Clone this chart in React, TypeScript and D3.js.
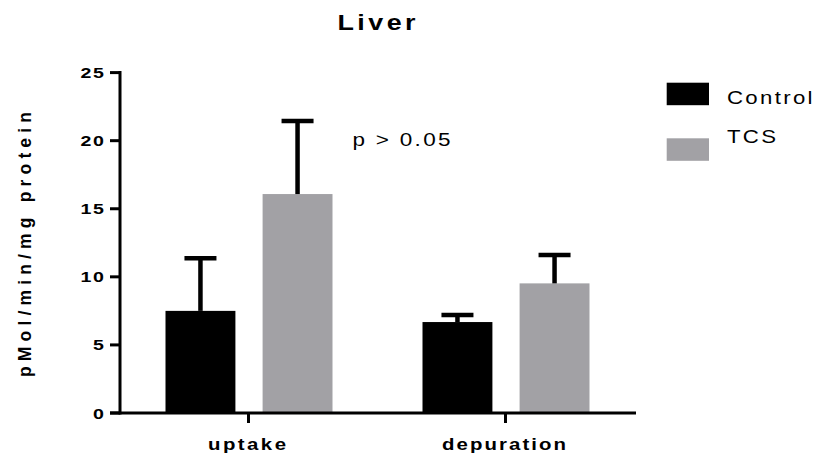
import React from "react";
import * as d3 from "d3";

const categories = ["uptake", "depuration"];
const seriesNames = ["Control", "TCS"];
const controlMeans = [7.5, 6.68];
const controlErrors = [3.86, 0.52];
const tcsMeans = [16.08, 9.52];
const tcsErrors = [5.37, 2.08];
const yTicks = [0, 5, 10, 15, 20, 25];
const colors = ["#000000", "#a2a1a5"];

const W = 818;
const H = 464;
const FONT = "'Liberation Sans', Arial, Helvetica, sans-serif";

type STProps = {
  x: number;
  y: number;
  sx: number;
  size: number;
  width?: number;
  anchor?: "start" | "middle" | "end";
  bold?: boolean;
  children: React.ReactNode;
};

function ST({ x, y, sx, size, width, anchor = "start", bold = false, children }: STProps) {
  return (
    <text
      transform={`translate(${x},${y}) scale(${sx},1)`}
      textAnchor={anchor}
      fontFamily={FONT}
      fontWeight={bold ? "bold" : "normal"}
      fontSize={size}
      textLength={width !== undefined ? width / sx : undefined}
      lengthAdjust="spacing"
    >
      {children}
    </text>
  );
}

export default function App() {
  const y = d3.scaleLinear().domain([0, 25]).range([413, 72.6]);
  const x = d3.scaleBand<string>().domain(categories).range([120, 634]).paddingInner(0.25).paddingOuter(0.125);
  const inner = d3.scaleBand<string>().domain(seriesNames).range([-83, 84]).paddingInner(0.28);
  const means = [controlMeans, tcsMeans];
  const errs = [controlErrors, tcsErrors];
  const bw = inner.bandwidth();
  const xLabelWidths: Record<string, number> = { uptake: 78, depuration: 124 };
  const legendWidths: Record<string, number> = { Control: 85.5, TCS: 49 };

  return (
    <svg width={W} height={H} style={{ position: "absolute", left: 0, top: 0, background: "#fff" }}>
      <ST x={337.5} y={30} sx={1.25} size={21.5} width={78} bold>
        Liver
      </ST>
      {/* bars */}
      {seriesNames.map((s, si) =>
        categories.map((c, ci) => {
          const cx = (x(c) as number) + x.bandwidth() / 2;
          const bx = cx + (inner(s) as number);
          const v = means[si][ci];
          const e = errs[si][ci];
          const mid = bx + bw / 2;
          return (
            <g key={s + c}>
              <rect x={bx} y={y(v)} width={bw} height={y(0) - y(v)} fill={colors[si]} />
              <line x1={mid} x2={mid} y1={y(v)} y2={y(v + e)} stroke="#000" strokeWidth={4.5} />
              <line x1={mid - 16} x2={mid + 16} y1={y(v + e)} y2={y(v + e)} stroke="#000" strokeWidth={4.5} />
            </g>
          );
        })
      )}
      {/* y axis */}
      <line x1={120} x2={120} y1={y(25) - 1.5} y2={y(0) + 1.5} stroke="#000" strokeWidth={3} />
      {yTicks.map((t) => (
        <g key={t}>
          <line x1={110} x2={120} y1={y(t)} y2={y(t)} stroke="#000" strokeWidth={3} />
          <ST
            x={104}
            y={y(t) + 5.5}
            sx={1.35}
            size={14.5}
            anchor="end"
            width={String(t).length === 1 ? 11 : 23.5}
            bold
          >
            {t}
          </ST>
        </g>
      ))}
      {/* x axis */}
      <line x1={110} x2={636} y1={y(0)} y2={y(0)} stroke="#000" strokeWidth={3} />
      {categories.map((c) => {
        const cx = (x(c) as number) + x.bandwidth() / 2;
        return (
          <g key={c}>
            <line x1={cx} x2={cx} y1={y(0)} y2={y(0) + 10} stroke="#000" strokeWidth={3} />
            <ST x={cx - 1.5} y={450} sx={1.2} size={17} anchor="middle" width={xLabelWidths[c]} bold>
              {c}
            </ST>
          </g>
        );
      })}
      {/* y axis title */}
      <text
        transform={`translate(31, 244.5) scale(1.1, 1) rotate(-90)`}
        textAnchor="middle"
        fontFamily={FONT}
        fontWeight="bold"
        fontSize={17.5}
        textLength={265}
        lengthAdjust="spacing"
      >
        pMol/min/mg protein
      </text>
      {/* annotation */}
      <ST x={352.5} y={146} sx={1.25} size={18} width={98}>
        p &gt; 0.05
      </ST>
      {/* legend */}
      {seriesNames.map((s, i) => (
        <g key={s}>
          <rect x={666.7} y={82.7 + i * 55.6} width={42.3} height={22.5} fill={colors[i]} />
          <ST x={727} y={104 + i * 38.7} sx={1.2} size={18.5} width={legendWidths[s]}>
            {s}
          </ST>
        </g>
      ))}
    </svg>
  );
}
